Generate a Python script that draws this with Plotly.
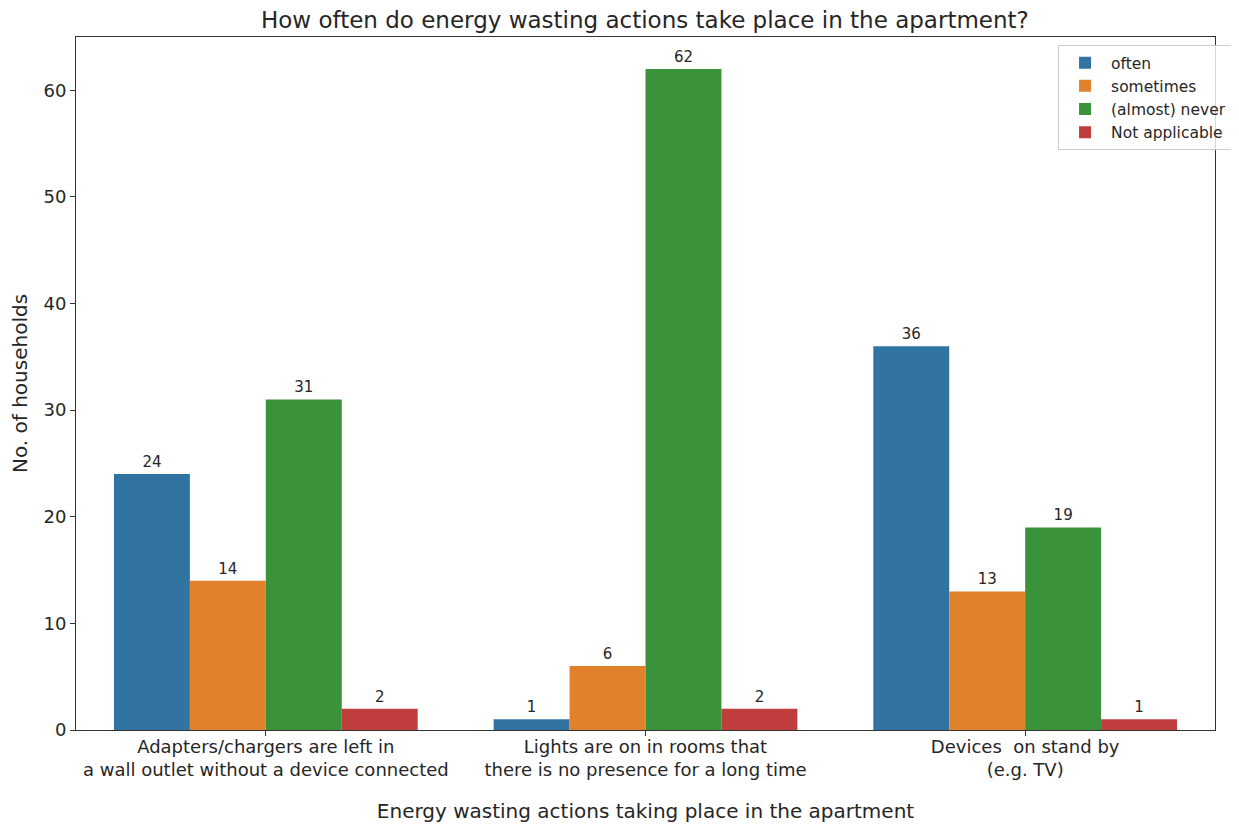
import plotly.graph_objects as go

categories = [
    "Adapters/chargers are left in<br>a wall outlet without a device connected",
    "Lights are on in rooms that<br>there is no presence for a long time",
    "Devices  on stand by<br>(e.g. TV)",
]
series_names = ["often", "sometimes", "(almost) never", "Not applicable"]
often = [24, 1, 36]
sometimes = [14, 6, 13]
almost_never = [31, 62, 19]
not_applicable = [2, 2, 1]
colors = ["#3274A1", "#E1812C", "#3A923A", "#C03D3E"]

values = [often, sometimes, almost_never, not_applicable]

fig = go.Figure()
for name, vals, col in zip(series_names, values, colors):
    fig.add_trace(go.Bar(
        x=categories, y=vals, name=name, marker_color=col,
        marker_line_width=0,
        text=[str(v) for v in vals], textposition="outside",
        textfont=dict(size=15, color="#262626"),
        cliponaxis=False,
    ))

font = "DejaVu Sans"
fig.update_layout(
    barmode="group", bargap=0.2, bargroupgap=0,
    width=1239, height=825,
    paper_bgcolor="white", plot_bgcolor="white",
    font=dict(family=font, color="#262626"),
    margin=dict(l=68, r=32, t=29, b=103, autoexpand=False),
    title=dict(text="How often do energy wasting actions take place in the apartment?",
               x=0.514, xanchor="center", xref="container", y=0.985, yanchor="middle",
               font=dict(size=23, color="#262626")),
    xaxis=dict(title=dict(text="Energy wasting actions taking place in the apartment",
                          font=dict(size=20), standoff=24),
               tickfont=dict(size=18), ticks="outside", ticklen=5, tickcolor="#333",
               ticklabelstandoff=-5,
               showline=True, linecolor="#333", mirror=True, showgrid=False,
               automargin=False),
    yaxis=dict(title=dict(text="No. of households", font=dict(size=20), standoff=12),
               range=[0, 65], dtick=10, tickfont=dict(size=18),
               ticks="outside", ticklen=5, tickcolor="#333",
               showline=True, linecolor="#333", mirror=True, showgrid=False,
               zeroline=False, automargin=False),
    legend=dict(xref="container", yref="container", x=0.8475, y=0.955,
                xanchor="left", yanchor="top",
                bgcolor="rgba(255,255,255,0.8)", bordercolor="#cccccc", borderwidth=1,
                font=dict(size=15.5), tracegroupgap=0, itemwidth=42),
)

fig.write_html("out.html")
